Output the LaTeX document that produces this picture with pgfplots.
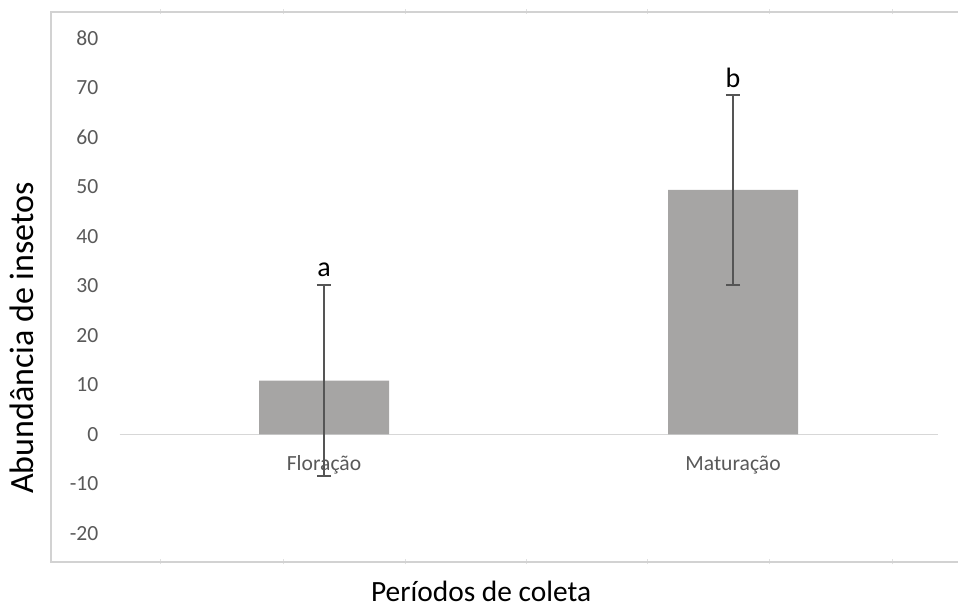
\documentclass[border=0pt]{standalone}
\usepackage{pgfplots}
\pgfplotsset{compat=1.18}
\usepackage{fontspec}
\setmainfont{Carlito}
\definecolor{barfill}{RGB}{166,165,164}
\definecolor{errc}{RGB}{85,85,85}
\definecolor{framec}{RGB}{210,210,210}
\definecolor{zeroc}{RGB}{215,215,215}
\definecolor{tickc}{RGB}{89,89,89}
\definecolor{ftick}{RGB}{225,225,225}
\begin{document}
\begin{tikzpicture}
\begin{axis}[
  name=ax,
  scale only axis,
  width=453.5pt, height=275pt,
  xmin=-0.6675, xmax=1.550,
  ymin=-25.76, ymax=85.35,
  axis line style={draw=none},
  clip=false,
  /pgf/number format/assume math mode=true,
  ytick={-20,-10,0,10,20,30,40,50,60,70,80},
  ytick style={draw=none},
  yticklabel style={anchor=east, inner sep=0pt, xshift=26pt,
    font=\fontsize{10.8}{12}\selectfont, text=tickc},
  xtick={-0.401,-0.100,0.198,0.496,0.792,1.090,1.391},
  xticklabels={},
  xtick pos=both,
  tick align=center,
  xtick style={ftick, line width=0.5pt, /pgfplots/major tick length=2.5pt},
]
\draw[framec, line width=0.8pt] (rel axis cs:1,1) -- (rel axis cs:0,1) -- (rel axis cs:0,0) -- (rel axis cs:1,0);
\draw[zeroc, line width=0.8pt] (axis cs:-0.5,0) -- (axis cs:1.5,0);
\addplot[ybar, bar width=65pt, fill=barfill, draw=none,
  error bars/.cd, y dir=both, y explicit,
  error bar style={errc, line width=0.6pt},
  error mark options={rotate=90, mark size=3.6pt, errc, line width=0.6pt}]
  coordinates {(0,10.9) +- (0,19.3) (1,49.4) +- (0,19.2)};
\node[anchor=base, inner sep=0pt, font=\fontsize{14}{15}\selectfont] at ([yshift=4pt]axis cs:0,30.2) {a};
\node[anchor=base, inner sep=0pt, font=\fontsize{14}{15}\selectfont] at ([yshift=3.8pt]axis cs:1,68.6) {b};
\node[anchor=base, inner sep=0pt, text=tickc, font=\fontsize{10.8}{12}\selectfont] at ([yshift=-18.25pt]axis cs:0,0) {Floração};
\node[anchor=base, inner sep=0pt, text=tickc, font=\fontsize{10.8}{12}\selectfont] at ([yshift=-18.25pt]axis cs:1,0) {Maturação};
\node[anchor=base, inner sep=0pt, font=\fontsize{14.7}{16}\selectfont] at ([yshift=1pt]axis cs:0.384,-34.2) {Períodos de coleta};
\node[anchor=center, inner sep=0pt, rotate=90, font=\fontsize{17}{19}\selectfont] at ([xshift=-14.5pt]axis cs:-0.6675,19.5) {Abundância de insetos};
\end{axis}
\pgfresetboundingbox
\path[use as bounding box] ([xshift=-25.5pt, yshift=-22.5pt]ax.south west) rectangle ([yshift=6pt]ax.north east);
\end{tikzpicture}
\end{document}
